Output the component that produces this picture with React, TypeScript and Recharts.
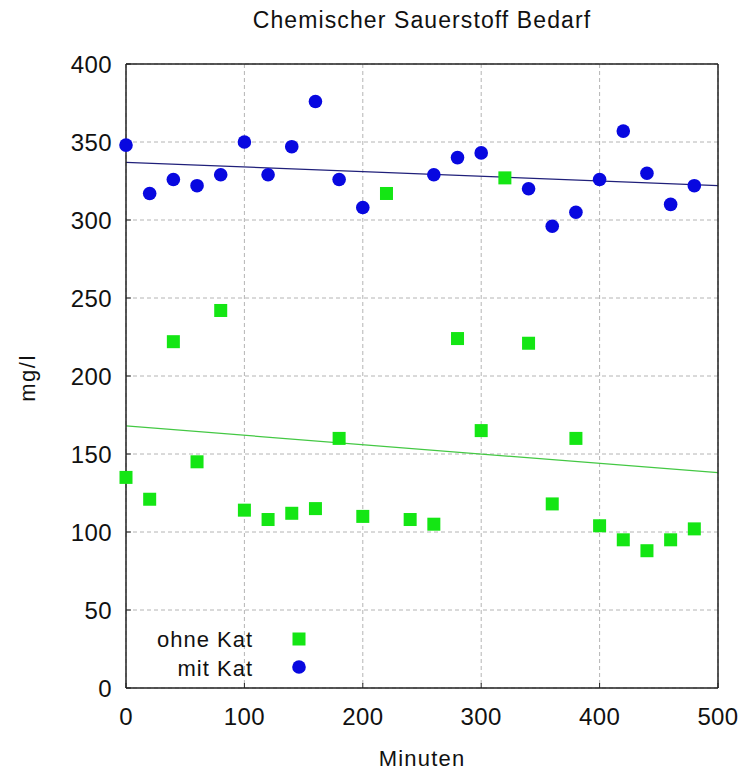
import {
  ComposedChart,
  Scatter,
  Line,
  XAxis,
  YAxis,
  CartesianGrid,
  Legend,
} from "recharts";

// Minuten für die Messreihe ohne Katalysator
const minutenOhne = [
  0, 20, 40, 60, 80, 100, 120, 140, 160, 180, 200, 220, 240, 260, 280, 300, 320, 340, 360, 380, 400,
  420, 440, 460, 480,
];
const ohneKat = [
  135, 121, 222, 145, 242, 114, 108, 112, 115, 160, 110, 317, 108, 105, 224, 165, 327, 221, 118, 160,
  104, 95, 88, 95, 102,
];

// Minuten für die Messreihe mit Katalysator
const minutenMit = [
  0, 20, 40, 60, 80, 100, 120, 140, 160, 180, 200, 260, 280, 300, 340, 360, 380, 400, 420, 440, 460,
  480,
];
const mitKat = [
  348, 317, 326, 322, 329, 350, 329, 347, 376, 326, 308, 329, 340, 343, 320, 296, 305, 326, 357, 330,
  310, 322,
];

const trendX = [0, 500];
const trendMit = [337, 322];
const trendOhne = [168, 138];

const xTicks = [0, 100, 200, 300, 400, 500];
const yTicks = [0, 50, 100, 150, 200, 250, 300, 350, 400];

const GREEN = "#14e614";
const BLUE = "#0808e0";
const FRAME = "#222";
const FONT = "'Liberation Sans', Arial, sans-serif";

const ohneData = minutenOhne.map((x, i) => ({ x, y: ohneKat[i] }));
const mitData = minutenMit.map((x, i) => ({ x, y: mitKat[i] }));
const trendMitData = trendX.map((x, i) => ({ x, y: trendMit[i] }));
const trendOhneData = trendX.map((x, i) => ({ x, y: trendOhne[i] }));

const Square = (props: any) => (
  <rect x={props.cx - 6.5} y={props.cy - 6.5} width={13} height={13} fill={GREEN} />
);
const Dot = (props: any) => <circle cx={props.cx} cy={props.cy} r={6.8} fill={BLUE} />;

const tickStyle = { fontSize: 24, fill: "#111", letterSpacing: 0.4 };

function LegendBox() {
  return (
    <svg width={175} height={62} style={{ fontFamily: FONT }}>
      <text x={113} y={27} textAnchor="end" fontSize={22} fill="#111" letterSpacing={1}>
        ohne Kat
      </text>
      <rect x={152.5} y={12.5} width={13} height={13} fill={GREEN} />
      <text x={113} y={56} textAnchor="end" fontSize={22} fill="#111" letterSpacing={1}>
        mit Kat
      </text>
      <circle cx={159} cy={47} r={6.8} fill={BLUE} />
    </svg>
  );
}

export default function App() {
  return (
    <div
      style={{
        position: "absolute",
        left: 0,
        top: 0,
        width: 744,
        height: 771,
        background: "#fff",
        fontFamily: FONT,
      }}
    >
      <ComposedChart width={744} height={771} margin={{ top: 63, right: 25, left: 0, bottom: 0 }}>
        <CartesianGrid stroke="#b4b4b4" strokeDasharray="4 3" />
        <XAxis
          dataKey="x"
          type="number"
          domain={[0, 500]}
          ticks={xTicks}
          height={83}
          axisLine={{ stroke: FRAME, strokeWidth: 1.5 }}
          tickLine={{ stroke: FRAME }}
          tickSize={-5}
          tickMargin={25}
          tick={tickStyle}
          label={{ value: "Minuten", position: "insideBottom", offset: 5, fontSize: 22, fill: "#111", letterSpacing: 1.2 }}
        />
        <XAxis
          xAxisId="top"
          dataKey="x"
          type="number"
          orientation="top"
          height={1}
          domain={[0, 500]}
          ticks={xTicks}
          tick={false}
          tickSize={-5}
          axisLine={{ stroke: FRAME, strokeWidth: 1.5 }}
          tickLine={{ stroke: FRAME }}
          label={{
            value: "Chemischer Sauerstoff Bedarf",
            position: "top",
            offset: 35,
            fontSize: 23,
            fill: "#111",
            letterSpacing: 1.1,
          }}
        />
        <YAxis
          type="number"
          domain={[0, 400]}
          ticks={yTicks}
          width={126}
          axisLine={{ stroke: FRAME, strokeWidth: 1.5 }}
          tickLine={{ stroke: FRAME }}
          tickSize={-5}
          tickMargin={19}
          tick={tickStyle}
          label={{
            content: ({ viewBox }: any) => {
              const cx = viewBox.x + 27;
              const cy = viewBox.y + viewBox.height / 2 + 2;
              return (
                <text
                  x={cx}
                  y={cy}
                  transform={`rotate(-90, ${cx}, ${cy})`}
                  textAnchor="middle"
                  dominantBaseline="central"
                  fontSize={22}
                  fill="#111"
                  letterSpacing={1.5}
                >
                  mg/l
                </text>
              );
            },
          }}
        />
        <YAxis
          yAxisId="right"
          type="number"
          orientation="right"
          width={1}
          domain={[0, 400]}
          ticks={yTicks}
          tick={false}
          tickSize={-5}
          axisLine={{ stroke: FRAME, strokeWidth: 1.5 }}
          tickLine={{ stroke: FRAME }}
        />
        <Legend
          layout="vertical"
          align="center"
          verticalAlign="middle"
          wrapperStyle={{ left: 140, top: 620, width: 175, height: 62 }}
          content={() => <LegendBox />}
        />
        <Line
          xAxisId="top"
          yAxisId="right"
          data={trendOhneData}
          dataKey="y"
          stroke="#44c844"
          strokeWidth={1.2}
          dot={false}
          activeDot={false}
          isAnimationActive={false}
          legendType="none"
        />
        <Line
          xAxisId="top"
          yAxisId="right"
          data={trendMitData}
          dataKey="y"
          stroke="#20207a"
          strokeWidth={1.2}
          dot={false}
          activeDot={false}
          isAnimationActive={false}
          legendType="none"
        />
        <Scatter name="ohne Kat" data={ohneData} dataKey="y" shape={Square} isAnimationActive={false} />
        <Scatter name="mit Kat" data={mitData} dataKey="y" shape={Dot} isAnimationActive={false} />
      </ComposedChart>
    </div>
  );
}
